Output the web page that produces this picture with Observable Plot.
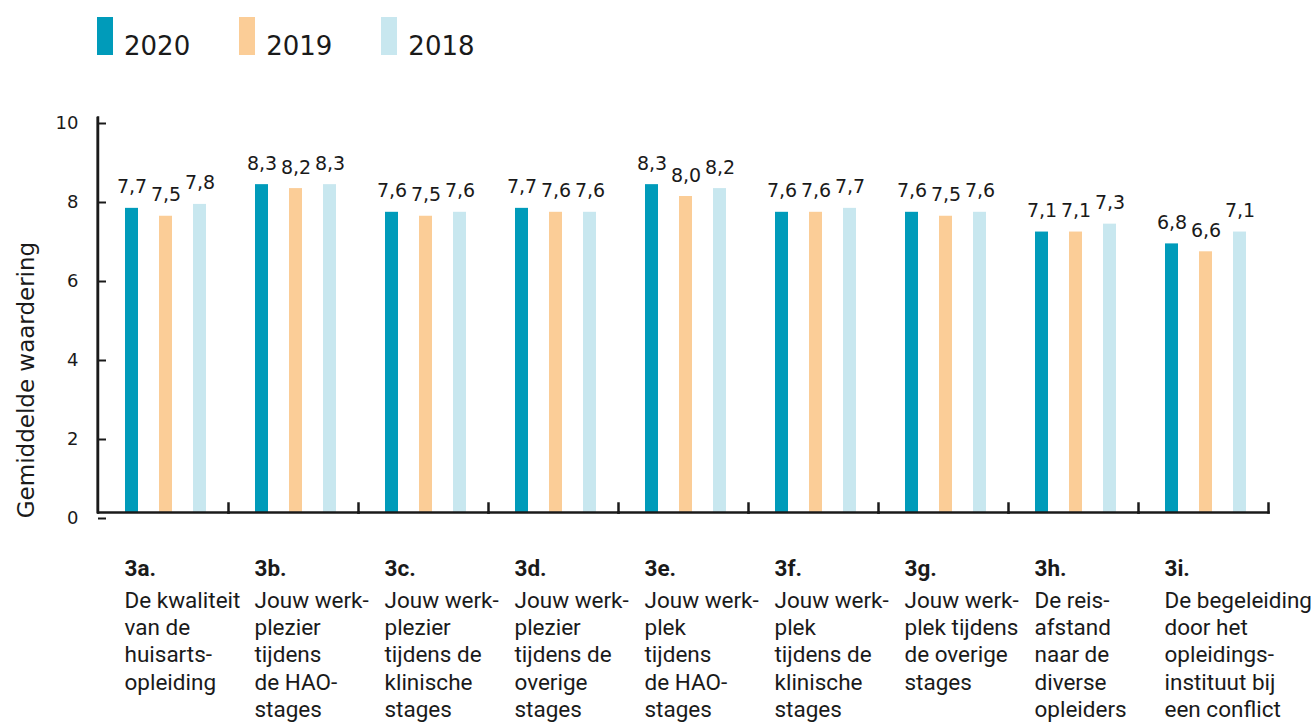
<!DOCTYPE html>
<html>
<head>
<meta charset="utf-8">
<script src="https://cdn.jsdelivr.net/npm/d3@7"></script>
<script src="https://cdn.jsdelivr.net/npm/@observablehq/plot@0.6"></script>
<style>
  html, body { margin: 0; padding: 0; background: #fff; }
  #legend { box-sizing: border-box; height: 80px; padding: 17px 0 0 97px; display: flex; align-items: baseline; font-family: "DejaVu Sans", sans-serif; font-size: 26px; color: #1a1a1a; }
  .item { display: flex; align-items: baseline; margin-right: 49px; }
  .sw { display: inline-block; width: 16px; height: 38px; margin-right: 11px; }
  #chart svg { display: block; }
</style>
</head>
<body>
<div id="legend"></div>
<div id="chart"></div>
<script>
const codes = ["3a.", "3b.", "3c.", "3d.", "3e.", "3f.", "3g.", "3h.", "3i."];
const descriptions = [
  "De kwaliteit\nvan de\nhuisarts-\nopleiding",
  "Jouw werk-\nplezier\ntijdens\nde HAO-\nstages",
  "Jouw werk-\nplezier\ntijdens de\nklinische\nstages",
  "Jouw werk-\nplezier\ntijdens de\noverige\nstages",
  "Jouw werk-\nplek\ntijdens\nde HAO-\nstages",
  "Jouw werk-\nplek\ntijdens de\nklinische\nstages",
  "Jouw werk-\nplek tijdens\nde overige\nstages",
  "De reis-\nafstand\nnaar de\ndiverse\nopleiders",
  "De begeleiding\ndoor het\nopleidings-\ninstituut bij\neen conflict"
];
const years = ["2020", "2019", "2018"];
const values2020 = [7.7, 8.3, 7.6, 7.7, 8.3, 7.6, 7.6, 7.1, 6.8];
const values2019 = [7.5, 8.2, 7.5, 7.6, 8.0, 7.6, 7.5, 7.1, 6.6];
const values2018 = [7.8, 8.3, 7.6, 7.6, 8.2, 7.7, 7.6, 7.3, 7.1];
const yTicks = [0, 2, 4, 6, 8, 10];
const yLabel = "Gemiddelde waardering";
const colors = ["#009bba", "#fbcd97", "#c8e7ef"];

const series = {"2020": values2020, "2019": values2019, "2018": values2018};
const rows = [];
codes.forEach((c, i) => years.forEach(y => rows.push({code: c, year: y, value: series[y][i]})));
const cats = codes.map((c, i) => ({code: c, desc: descriptions[i]}));
const fmt = v => d3.format(".1f")(v).replace(".", ",");

// legend
const legend = document.getElementById("legend");
years.forEach((y, i) => {
  const it = document.createElement("div");
  it.className = "item";
  it.innerHTML = `<span class="sw" style="background:${colors[i]}"></span><span>${y}</span>`;
  legend.appendChild(it);
});

const W = 1316, H = 645, MT = 37, MB = 213, ML = 97, MR = 48;
const plotH = H - MT - MB;
const facetW = (W - ML - MR) / codes.length;
const ink = "#1a1a1a";
const yMax = yTicks[yTicks.length - 1];

const chart = Plot.plot({
  width: W,
  height: H,
  marginTop: MT,
  marginBottom: MB,
  marginLeft: ML,
  marginRight: MR,
  style: {fontFamily: "DejaVu Sans, sans-serif", color: ink, background: "#fff"},
  fx: {domain: codes, padding: 0, axis: null, label: null},
  x: {domain: years, paddingInner: 0.632, paddingOuter: 0.70, align: 0.54, axis: null},
  y: {domain: [0, yMax], axis: null},
  color: {domain: years, range: colors},
  marks: [
    Plot.barY(rows, {fx: "code", x: "year", y: "value", fill: "year"}),
    Plot.text(rows, {fx: "code", x: "year", y: "value", text: d => fmt(d.value), dy: -21, fontSize: 19, fill: ink}),
    Plot.frame({anchor: "bottom", stroke: ink, strokeWidth: 2.5}),
    Plot.frame({anchor: "right", stroke: ink, strokeWidth: 2.5, insetTop: plotH - 9}),
    Plot.axisY({ticks: yTicks, tickSize: -8, tickPadding: 28, dy: 6, fontSize: 18, stroke: ink, strokeWidth: 2, tickFormat: d => d, label: null}),
    Plot.text([yLabel], {text: d => d, frameAnchor: "left", textAnchor: "middle", rotate: -90, dx: -72, dy: 65, fontSize: 23, fill: ink, facetAnchor: "left"}),
    Plot.text(cats, {fx: "code", text: "code", frameAnchor: "bottom-left", textAnchor: "start", lineAnchor: "top", dx: 26, dy: 47.7, fontSize: 22.5, fontWeight: "bold", fontFamily: "Roboto", fill: ink}),
    Plot.text(cats, {fx: "code", text: "desc", frameAnchor: "bottom-left", textAnchor: "start", lineAnchor: "top", dx: 26, dy: 76, fontSize: 22.5, lineHeight: 1.213, fontFamily: "Roboto", fill: ink}),
    // y-axis line: once over the whole frame, plus a first-facet fallback
    Plot.rectY([codes[0]], {fx: d => d, y1: 0, y2: yMax, fill: ink, insetRight: facetW - 2.5, dx: -1.5, insetBottom: -1.25}),
    Plot.frame({anchor: "left", stroke: ink, strokeWidth: 2.5, facet: "super", dx: -0.5})
  ]
});
document.getElementById("chart").appendChild(chart);
</script>
</body>
</html>
